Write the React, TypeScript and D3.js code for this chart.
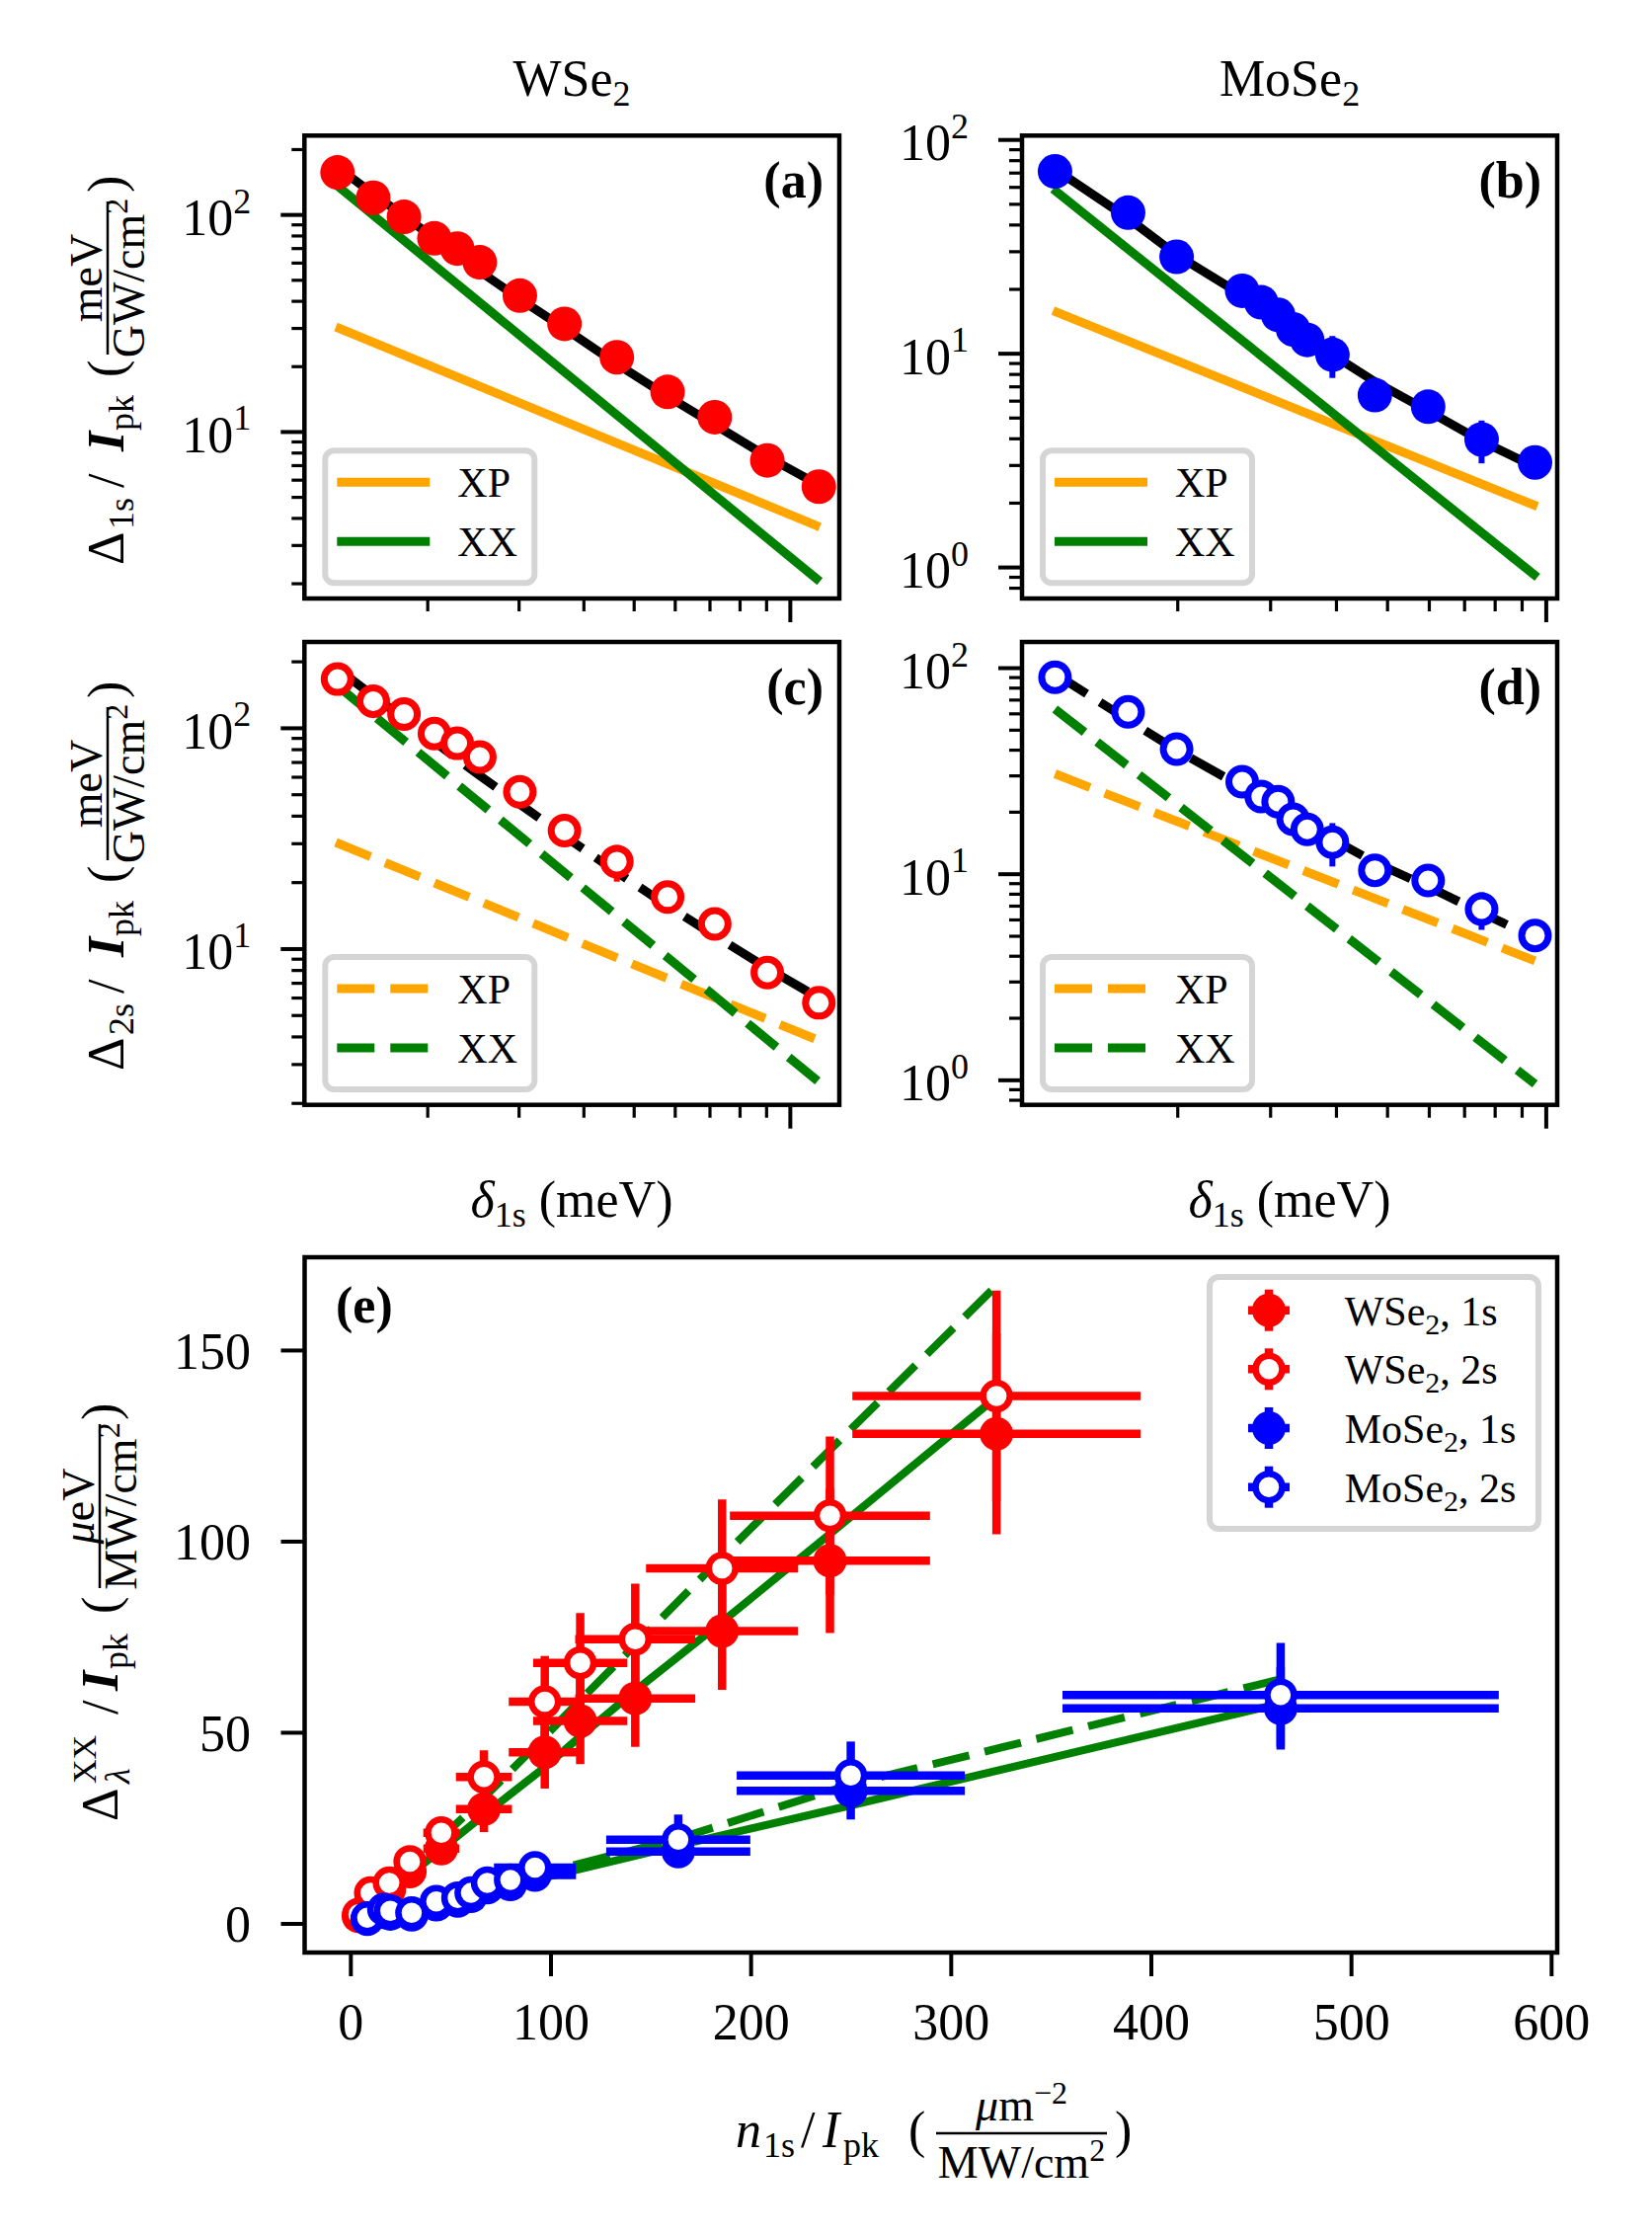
import React from 'react';
import * as d3 from 'd3';

type P = [number, number];

const W = 1673;
const H = 2263;
const FONT = "'Liberation Serif', 'Times New Roman', Times, serif";
const RED = '#ff0000';
const BLUE = '#0000ff';
const ORANGE = '#ffa500';
const GREEN = '#008000';
const LEG_EDGE = '#d5d5d5';

// ---------------- panels (a)-(d): x = delta_1s (meV) ----------------
const deltaWSe2 = [1.34, 1.57, 1.8, 2.06, 2.28, 2.52, 3.01, 3.67, 4.63, 5.8, 7.15, 9.03, 11.35];
const deltaMoSe2 = [1.17, 1.61, 1.99, 2.65, 2.88, 3.1, 3.31, 3.52, 3.93, 4.73, 5.97, 7.54, 9.52];

// (a) WSe2, 1s
const wse2D1s = [157, 120, 98, 78, 70, 60.5, 42.5, 31.5, 22.1, 15.3, 11.7, 7.4, 5.6];
const wse2D1sErr = [0, 0, 0, 0, 0, 0, 0, 0, 2.8, 0, 0, 0, 0];
const wse2D1sFit = [166, 125, 99, 78, 65.5, 55, 41, 30, 20.6, 14.6, 10.8, 7.7, 5.7];
const wse2D1sXP: P[] = [[1.33, 30.5], [11.4, 3.65]];
const wse2D1sXX: P[] = [[1.33, 138], [11.4, 2.05]];

// (b) MoSe2, 1s
const mose2D1s = [71.3, 45.7, 28.4, 19.7, 17.4, 15.2, 13.0, 11.6, 9.9, 6.4, 5.65, 3.97, 3.1];
const mose2D1sErr = [0, 0, 0, 0, 0, 0, 0, 0, 2.2, 0, 0, 0.9, 0];
const mose2D1sFit = [73, 43, 29, 18.8, 16.4, 14.5, 13, 11.7, 9.9, 7.4, 5.4, 3.9, 2.95];
const mose2D1sXP: P[] = [[1.16, 15.9], [9.62, 1.93]];
const mose2D1sXX: P[] = [[1.16, 59], [9.62, 0.9]];

// (c) WSe2, 2s
const wse2D2s = [167, 132.6, 115.9, 94.6, 85.5, 74.1, 51.5, 34.4, 24.9, 17.2, 13.0, 7.83, 5.71];
const wse2D2sErr = [0, 0, 0, 0, 0, 0, 0, 0, 4.7, 0, 0, 0, 0];
const wse2D2sFit = [186, 140, 111, 87, 72.6, 61, 45.3, 32.5, 22.3, 15.7, 11.5, 8.2, 6.0];
const wse2D2sXP: P[] = [[1.33, 30.4], [11.4, 3.84]];
const wse2D2sXX: P[] = [[1.33, 158], [11.4, 2.48]];

// (d) MoSe2, 2s
const mose2D2s = [90.4, 61.4, 40.5, 28.1, 23.8, 22.5, 18.5, 16.5, 14.3, 10.45, 9.33, 6.77, 5.04];
const mose2D2sErr = [0, 0, 0, 0, 0, 0, 0, 0, 3.4, 0, 0, 1.4, 0];
const mose2D2sFit = [94, 56, 40, 26.5, 23.2, 20.8, 18.8, 17.2, 14.8, 11.4, 8.7, 6.5, 4.9];
const mose2D2sXP: P[] = [[1.17, 30.7], [9.52, 3.8]];
const mose2D2sXX: P[] = [[1.17, 63.3], [9.52, 0.96]];

// ---------------- panel (e): x = n1s / Ipk ----------------
const wse2N = [3.8, 9.8, 19.2, 29.5, 45.2, 66.5, 96.9, 114.6, 142.1, 185.5, 239.4, 322.6];
const wse2NErr = [0.5, 1.5, 3, 5, 9, 14, 18, 23.5, 30, 38, 50, 72];
const wse2XX1s = [2.0, 5.5, 9.0, 13.7, 19.7, 30.0, 44.9, 53.1, 59.0, 76.6, 95.0, 128.2];
const wse2XX1sErr = [0.5, 1, 1.5, 2, 3.5, 6, 9.5, 11.3, 12.7, 15.4, 18.9, 26.3];
const wse2XX2s = [2.5, 8.1, 10.7, 16.3, 23.8, 38.4, 58.1, 68.3, 74.5, 93.0, 106.8, 138.1];
const wse2XX2sErr = [0.5, 1, 1.5, 2.5, 4, 7, 12, 13, 14.5, 18, 20.7, 27.6];

const mose2N = [8.2, 16.4, 19.7, 30.4, 42.7, 53.4, 60.0, 68.2, 79.7, 92.0, 163.6, 249.8, 464.6];
const mose2NErr = [0.5, 1, 1.2, 2, 3, 3.5, 4, 4.5, 6, 20.5, 36, 57, 109];
const mose2XX1s = [1.2, 3.0, 2.6, 2.4, 5.0, 6.0, 7.2, 9.5, 10.3, 12.8, 18.9, 34.8, 56.4];
const mose2XX1sErr = [0.3, 0.5, 0.5, 0.5, 0.8, 1, 1, 1.2, 1.5, 2, 3.8, 7.5, 10.8];
const mose2XX2s = [1.6, 3.8, 3.4, 2.9, 5.9, 6.8, 8.1, 10.7, 11.5, 14.7, 22.0, 38.8, 59.9];
const mose2XX2sErr = [0.3, 0.5, 0.5, 0.5, 0.8, 1, 1, 1.2, 1.5, 2, 6.6, 8.9, 13.6];

const wse2ModelSolid: P[] = [[3.8, 1.5], [9.8, 4.3], [19.2, 8.5], [29.5, 12.8], [45.2, 19.5], [66.5, 28.5], [96.9, 41], [114.6, 49], [142.1, 61], [185.5, 79], [239.4, 102], [322.6, 137.8]];
const wse2ModelDashed: P[] = [[3.8, 1.8], [9.8, 5], [19.2, 9.5], [29.5, 14.5], [45.2, 22.5], [66.5, 33], [96.9, 49], [114.6, 58.5], [142.1, 73], [185.5, 96], [239.4, 124], [322.6, 167]];
const mose2ModelSolid: P[] = [[8.2, 1], [16.4, 2], [19.7, 2.5], [30.4, 3.8], [42.7, 5.4], [53.4, 6.7], [60, 7.5], [68.2, 8.5], [79.7, 10], [92, 11.5], [163.6, 20.5], [249.8, 31], [464.6, 57.7]];
const mose2ModelDashed: P[] = [[8.2, 1.2], [16.4, 2.4], [19.7, 2.8], [30.4, 4.3], [42.7, 6], [53.4, 7.5], [60, 8.4], [68.2, 9.5], [79.7, 11.1], [92, 12.8], [163.6, 22.3], [249.8, 36.5], [464.6, 64]];

const eXTicks = [0, 100, 200, 300, 400, 500, 600];
const eYTicks = [0, 50, 100, 150];

const LW = 9;
const LWE = 8;
const DASH = '38 16';
const SPINE = 4.5;

type Box = { x0: number; x1: number; y0: number; y1: number };

function logTicks(dom: [number, number]) {
  const out: { v: number; major: boolean; k: number }[] = [];
  const lo = Math.floor(Math.log10(dom[0]));
  const hi = Math.ceil(Math.log10(dom[1]));
  for (let k = lo; k <= hi; k++) {
    for (let m = 1; m <= 9; m++) {
      const v = m * Math.pow(10, k);
      if (v >= dom[0] * 0.9999 && v <= dom[1] * 1.0001) out.push({ v, major: m === 1, k });
    }
  }
  return out;
}

type LogPanelProps = {
  id: string;
  box: Box;
  xDom: [number, number];
  yDom: [number, number];
  xs: number[];
  ys: number[];
  yerr: number[];
  fit: number[];
  xp: P[];
  xx: P[];
  color: string;
  open: boolean;
  dashed: boolean;
  tag: string;
};

function LogPanel(p: LogPanelProps) {
  const { x0, x1, y0, y1 } = p.box;
  const sx = d3.scaleLog().domain(p.xDom).range([x0, x1]);
  const sy = d3.scaleLog().domain(p.yDom).range([y1, y0]);
  const ln = d3.line<P>().x((d) => sx(d[0])).y((d) => sy(d[1]));
  const fitPts: P[] = p.xs.map((x, i) => [x, p.fit[i]]);
  const dash = p.dashed ? DASH : undefined;
  const clipId = 'clip-' + p.id;
  const xt = logTicks(p.xDom);
  const yt = logTicks(p.yDom);
  const lx = x0 + 21;
  const ly = y0 + 319;
  return (
    <g>
      <defs>
        <clipPath id={clipId}>
          <rect x={x0} y={y0} width={x1 - x0} height={y1 - y0} />
        </clipPath>
      </defs>
      <g clipPath={`url(#${clipId})`}>
        <path d={ln(fitPts) || ''} stroke="#000" strokeWidth={LW} fill="none" strokeDasharray={dash} />
        <path d={ln(p.xp) || ''} stroke={ORANGE} strokeWidth={LW} fill="none" strokeDasharray={dash} />
        <path d={ln(p.xx) || ''} stroke={GREEN} strokeWidth={LW} fill="none" strokeDasharray={dash} />
        {p.xs.map((x, i) =>
          p.yerr[i] > 0 ? (
            <line key={'e' + i} x1={sx(x)} x2={sx(x)} y1={sy(p.ys[i] - p.yerr[i])} y2={sy(p.ys[i] + p.yerr[i])} stroke={p.color} strokeWidth={6} />
          ) : null
        )}
        {p.xs.map((x, i) =>
          p.open ? (
            <circle key={'m' + i} cx={sx(x)} cy={sy(p.ys[i])} r={13.5} fill="#fff" stroke={p.color} strokeWidth={7} />
          ) : (
            <circle key={'m' + i} cx={sx(x)} cy={sy(p.ys[i])} r={17.5} fill={p.color} />
          )
        )}
      </g>
      {/* legend */}
      <rect x={lx} y={ly} width={212} height={134} rx={9} fill="#fff" stroke={LEG_EDGE} strokeWidth={6} />
      <line x1={x0 + 33} x2={x0 + 127} y1={y0 + 351} y2={y0 + 351} stroke={ORANGE} strokeWidth={LW} strokeDasharray={dash} />
      <line x1={x0 + 33} x2={x0 + 127} y1={y0 + 411} y2={y0 + 411} stroke={GREEN} strokeWidth={LW} strokeDasharray={dash} />
      <text x={x0 + 155} y={y0 + 366} fontSize={42}>XP</text>
      <text x={x0 + 155} y={y0 + 426} fontSize={42}>XX</text>
      {/* panel tag */}
      <text x={x1 - 16} y={y0 + 63} fontSize={52} fontWeight="bold" textAnchor="end">{p.tag}</text>
      {/* ticks */}
      {xt.map((t, i) => (
        <line key={'xt' + i} x1={sx(t.v)} x2={sx(t.v)} y1={y1} y2={y1 + (t.major ? 24 : 13)} stroke="#000" strokeWidth={t.major ? 4 : 3.2} />
      ))}
      {yt.map((t, i) => (
        <line key={'yt' + i} x1={x0} x2={x0 - (t.major ? 24 : 13)} y1={sy(t.v)} y2={sy(t.v)} stroke="#000" strokeWidth={t.major ? 4 : 3.2} />
      ))}
      {yt
        .filter((t) => t.major)
        .map((t, i) => (
          <text key={'yl' + i} x={x0 - 54} y={sy(t.v) + 20.5} fontSize={52} textAnchor="end">
            10
            <tspan fontSize={36} dy={-22.5}>
              {t.k}
            </tspan>
          </text>
        ))}
      <rect x={x0} y={y0} width={x1 - x0} height={y1 - y0} fill="none" stroke="#000" strokeWidth={SPINE} />
    </g>
  );
}

function YLabelLog({ x, cy, sub }: { x: number; cy: number; sub: string }) {
  return (
    <g transform={`translate(${x},${cy}) rotate(-90)`} fontSize={52}>
      <text x={-196} y={0}>Δ</text>
      <text x={-160} y={10} fontSize={36}>{sub}</text>
      <text x={-118} y={0}>/</text>
      <text x={-81} y={0} fontStyle="italic" fontWeight="bold">I</text>
      <text x={-60} y={10} fontSize={36}>pk</text>
      <text x={-6} y={0}>(</text>
      <line x1={17} x2={172} y1={-16} y2={-16} stroke="#000" strokeWidth={2.5} />
      <text x={94.5} y={-22} textAnchor="middle" fontSize={46}>meV</text>
      <text x={94.5} y={21} textAnchor="middle" fontSize={46}>
        GW/cm
        <tspan fontSize={32} dy={-17}>2</tspan>
      </text>
      <text x={181} y={0}>)</text>
    </g>
  );
}

function ErrSeries({ sx, sy, xs, ys, xe, ye, color }: any) {
  return (
    <g>
      {xs.map((x: number, i: number) => (
        <g key={i}>
          <line x1={sx(x - xe[i])} x2={sx(x + xe[i])} y1={sy(ys[i])} y2={sy(ys[i])} stroke={color} strokeWidth={8.5} />
          <line x1={sx(x)} x2={sx(x)} y1={sy(ys[i] - ye[i])} y2={sy(ys[i] + ye[i])} stroke={color} strokeWidth={8.5} />
        </g>
      ))}
    </g>
  );
}

function MarkSeries({ sx, sy, xs, ys, color, open }: any) {
  return (
    <g>
      {xs.map((x: number, i: number) =>
        open ? (
          <circle key={i} cx={sx(x)} cy={sy(ys[i])} r={13.5} fill="#fff" stroke={color} strokeWidth={6.5} />
        ) : (
          <circle key={i} cx={sx(x)} cy={sy(ys[i])} r={17} fill={color} />
        )
      )}
    </g>
  );
}

function LegMarker({ x, y, color, open }: { x: number; y: number; color: string; open: boolean }) {
  return (
    <g>
      <line x1={x} x2={x} y1={y - 21} y2={y + 21} stroke={color} strokeWidth={8.5} />
      <line x1={x - 21} x2={x + 21} y1={y} y2={y} stroke={color} strokeWidth={8.5} />
      {open ? <circle cx={x} cy={y} r={13.5} fill="#fff" stroke={color} strokeWidth={6.5} /> : <circle cx={x} cy={y} r={17} fill={color} />}
    </g>
  );
}

function PanelE() {
  const x0 = 308.5, x1 = 1577, y0 = 1273, y1 = 1977;
  const sx = d3.scaleLinear().domain([-23.1, 602.8]).range([x0, x1]);
  const sy = d3.scaleLinear().domain([-7.5, 174.4]).range([y1, y0]);
  const ln = d3.line<P>().x((d) => sx(d[0])).y((d) => sy(d[1]));
  const legRows = [
    { label: 'WSe', rest: ', 1s', color: RED, open: false },
    { label: 'WSe', rest: ', 2s', color: RED, open: true },
    { label: 'MoSe', rest: ', 1s', color: BLUE, open: false },
    { label: 'MoSe', rest: ', 2s', color: BLUE, open: true },
  ];
  const legY = [1326.7, 1386.3, 1446, 1505.7];
  return (
    <g>
      <defs>
        <clipPath id="clip-e">
          <rect x={x0} y={y0} width={x1 - x0} height={y1 - y0} />
        </clipPath>
      </defs>
      <g clipPath="url(#clip-e)">
        <path d={ln(wse2ModelSolid) || ''} stroke={GREEN} strokeWidth={LWE} fill="none" />
        <path d={ln(wse2ModelDashed) || ''} stroke={GREEN} strokeWidth={LWE} fill="none" strokeDasharray={DASH} />
        <path d={ln(mose2ModelSolid) || ''} stroke={GREEN} strokeWidth={LWE} fill="none" />
        <path d={ln(mose2ModelDashed) || ''} stroke={GREEN} strokeWidth={LWE} fill="none" strokeDasharray={DASH} />
        <ErrSeries sx={sx} sy={sy} xs={wse2N} ys={wse2XX1s} xe={wse2NErr} ye={wse2XX1sErr} color={RED} />
        <MarkSeries sx={sx} sy={sy} xs={wse2N} ys={wse2XX1s} color={RED} open={false} />
        <ErrSeries sx={sx} sy={sy} xs={wse2N} ys={wse2XX2s} xe={wse2NErr} ye={wse2XX2sErr} color={RED} />
        <MarkSeries sx={sx} sy={sy} xs={wse2N} ys={wse2XX2s} color={RED} open={true} />
        <ErrSeries sx={sx} sy={sy} xs={mose2N} ys={mose2XX1s} xe={mose2NErr} ye={mose2XX1sErr} color={BLUE} />
        <MarkSeries sx={sx} sy={sy} xs={mose2N} ys={mose2XX1s} color={BLUE} open={false} />
        <ErrSeries sx={sx} sy={sy} xs={mose2N} ys={mose2XX2s} xe={mose2NErr} ye={mose2XX2sErr} color={BLUE} />
        <MarkSeries sx={sx} sy={sy} xs={mose2N} ys={mose2XX2s} color={BLUE} open={true} />
      </g>
      <text x={x0 + 31.5} y={1339} fontSize={52} fontWeight="bold">(e)</text>
      {/* legend */}
      <rect x={1225} y={1293} width={333} height={255} rx={9} fill="#fff" stroke={LEG_EDGE} strokeWidth={6} />
      {legRows.map((r, i) => (
        <g key={i}>
          <LegMarker x={1285} y={legY[i]} color={r.color} open={r.open} />
          <text x={1361.7} y={legY[i] + 15} fontSize={42}>
            {r.label}
            <tspan fontSize={30} dy={9}>2</tspan>
            <tspan dy={-9}>{r.rest}</tspan>
          </text>
        </g>
      ))}
      {/* ticks */}
      {eXTicks.map((t) => (
        <g key={'x' + t}>
          <line x1={sx(t)} x2={sx(t)} y1={y1} y2={y1 + 24} stroke="#000" strokeWidth={4} />
          <text x={sx(t)} y={2065} fontSize={52} textAnchor="middle">{t}</text>
        </g>
      ))}
      {eYTicks.map((t) => (
        <g key={'y' + t}>
          <line x1={x0} x2={x0 - 24} y1={sy(t)} y2={sy(t)} stroke="#000" strokeWidth={4} />
          <text x={254} y={sy(t) + 18.5} fontSize={52} textAnchor="end">{t}</text>
        </g>
      ))}
      <rect x={x0} y={y0} width={x1 - x0} height={y1 - y0} fill="none" stroke="#000" strokeWidth={SPINE} />
      {/* y label */}
      <g transform="translate(119,1630) rotate(-90)" fontSize={52}>
        <text x={-214} y={0}>Δ</text>
        <text x={-176} y={-22} fontSize={34}>XX</text>
        <text x={-176} y={12} fontSize={36} fontStyle="italic">λ</text>
        <text x={-106} y={0}>/</text>
        <text x={-82} y={0} fontStyle="italic" fontWeight="bold">I</text>
        <text x={-60} y={10} fontSize={36}>pk</text>
        <text x={-4} y={0}>(</text>
        <line x1={22} x2={188} y1={-18} y2={-18} stroke="#000" strokeWidth={2.5} />
        <text x={105} y={-24} textAnchor="middle" fontSize={46}>
          <tspan fontStyle="italic">μ</tspan>eV
        </text>
        <text x={105} y={19} textAnchor="middle" fontSize={46}>
          MW/cm
          <tspan fontSize={32} dy={-17}>2</tspan>
        </text>
        <text x={192} y={0}>)</text>
      </g>
      {/* x label */}
      <g fontSize={52}>
        <text x={745} y={2174} fontStyle="italic">n</text>
        <text x={773} y={2184} fontSize={36}>1s</text>
        <text x={811} y={2174}>/</text>
        <text x={833} y={2174} fontStyle="italic">I</text>
        <text x={854} y={2184} fontSize={36}>pk</text>
        <text x={920} y={2174}>(</text>
        <line x1={948} x2={1121} y1={2160} y2={2160} stroke="#000" strokeWidth={2.5} />
        <text x={1034.5} y={2147} textAnchor="middle" fontSize={46}>
          <tspan fontStyle="italic">μ</tspan>m
          <tspan fontSize={32} dy={-17}>−2</tspan>
        </text>
        <text x={1034.5} y={2205} textAnchor="middle" fontSize={46}>
          MW/cm
          <tspan fontSize={32} dy={-17}>2</tspan>
        </text>
        <text x={1129} y={2174}>)</text>
      </g>
    </g>
  );
}

export default function App() {
  const boxA: Box = { x0: 308.3, x1: 850, y0: 137.3, y1: 606 };
  const boxB: Box = { x0: 1035, x1: 1577, y0: 137.3, y1: 606 };
  const boxC: Box = { x0: 308.3, x1: 850, y0: 650, y1: 1118.7 };
  const boxD: Box = { x0: 1035, x1: 1577, y0: 650, y1: 1118.7 };
  const xDomW: [number, number] = [1.157, 12.43];
  const xDomM: [number, number] = [1.013, 10.49];
  return (
    <div style={{ position: 'absolute', left: 0, top: 0 }}>
      <svg width={W} height={H} style={{ display: 'block', fontFamily: FONT }}>
        <rect x={0} y={0} width={W} height={H} fill="#fff" />
        {/* titles */}
        <text x={579} y={97} fontSize={52} textAnchor="middle">
          WSe<tspan fontSize={36} dy={10}>2</tspan>
        </text>
        <text x={1306} y={97} fontSize={52} textAnchor="middle">
          MoSe<tspan fontSize={36} dy={10}>2</tspan>
        </text>
        <LogPanel id="a" box={boxA} xDom={xDomW} yDom={[1.71, 232]} xs={deltaWSe2} ys={wse2D1s} yerr={wse2D1sErr} fit={wse2D1sFit} xp={wse2D1sXP} xx={wse2D1sXX} color={RED} open={false} dashed={false} tag="(a)" />
        <LogPanel id="b" box={boxB} xDom={xDomM} yDom={[0.716, 104.8]} xs={deltaMoSe2} ys={mose2D1s} yerr={mose2D1sErr} fit={mose2D1sFit} xp={mose2D1sXP} xx={mose2D1sXX} color={BLUE} open={false} dashed={false} tag="(b)" />
        <LogPanel id="c" box={boxC} xDom={xDomW} yDom={[1.97, 246]} xs={deltaWSe2} ys={wse2D2s} yerr={wse2D2sErr} fit={wse2D2sFit} xp={wse2D2sXP} xx={wse2D2sXX} color={RED} open={true} dashed={true} tag="(c)" />
        <LogPanel id="d" box={boxD} xDom={xDomM} yDom={[0.76, 134]} xs={deltaMoSe2} ys={mose2D2s} yerr={mose2D2sErr} fit={mose2D2sFit} xp={mose2D2sXP} xx={mose2D2sXX} color={BLUE} open={true} dashed={true} tag="(d)" />
        <YLabelLog x={125} cy={376} sub="1s" />
        <YLabelLog x={125} cy={888} sub="2s" />
        {/* delta labels */}
        <text x={579} y={1232} fontSize={52} textAnchor="middle">
          <tspan fontStyle="italic">δ</tspan>
          <tspan fontSize={36} dy={10}>1s</tspan>
          <tspan dy={-10}> (meV)</tspan>
        </text>
        <text x={1306} y={1232} fontSize={52} textAnchor="middle">
          <tspan fontStyle="italic">δ</tspan>
          <tspan fontSize={36} dy={10}>1s</tspan>
          <tspan dy={-10}> (meV)</tspan>
        </text>
        <PanelE />
      </svg>
    </div>
  );
}
